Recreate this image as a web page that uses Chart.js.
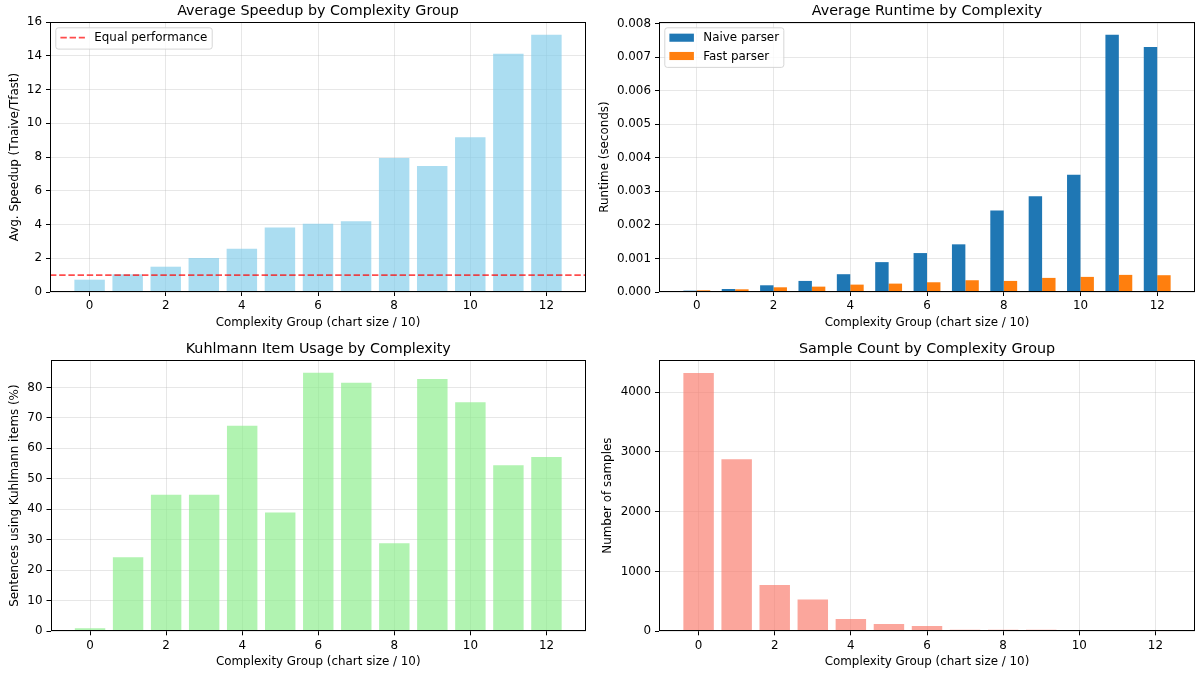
<!DOCTYPE html>
<html>
<head>
<meta charset="utf-8">
<script src="https://cdn.jsdelivr.net/npm/chart.js@4.4.0/dist/chart.umd.min.js"></script>
<style>
  body { margin: 0; background: #fff; width: 1198px; height: 675px; overflow: hidden; position: relative; }
  canvas { position: absolute; }
</style>
</head>
<body>
<canvas id="c1" width="599" height="337" style="left:0;top:0"></canvas>
<canvas id="c2" width="601" height="337" style="left:597px;top:0"></canvas>
<canvas id="c3" width="599" height="338" style="left:0;top:337px"></canvas>
<canvas id="c4" width="601" height="338" style="left:597px;top:337px"></canvas>
<script>
// complexity groups (chart size / 10)
var groups = [0, 1, 2, 3, 4, 5, 6, 7, 8, 9, 10, 11, 12];

// values
var speedup = [0.73, 1.05, 1.50, 2.01, 2.56, 3.82, 4.04, 4.20, 7.94, 7.47, 9.18, 14.13, 15.25];
var naiveRuntime = [0.00004, 0.00009, 0.00020, 0.00033, 0.00053, 0.00089, 0.00116, 0.00142, 0.00243, 0.00285, 0.00349, 0.00766, 0.00730];
var fastRuntime = [0.00005, 0.00008, 0.00014, 0.00016, 0.00022, 0.00025, 0.00029, 0.00035, 0.00033, 0.00042, 0.00045, 0.00051, 0.00050];
var kuhlmannPct = [1.0, 24.3, 44.8, 44.8, 67.4, 39.0, 84.8, 81.5, 28.9, 82.8, 75.1, 54.5, 57.2];
var sampleCount = [4320, 2877, 776, 530, 207, 120, 89, 25, 25, 26, 12, 3, 2];
var equalPerf = 1;

// tick labels
var xTicks = [0, 2, 4, 6, 8, 10, 12];
var speedupTicks = [0, 2, 4, 6, 8, 10, 12, 14, 16];
var runtimeTicks = [0, 0.001, 0.002, 0.003, 0.004, 0.005, 0.006, 0.007, 0.008];
var kuhlmannTicks = [0, 10, 20, 30, 40, 50, 60, 70, 80];
var countTicks = [0, 1000, 2000, 3000, 4000];

Chart.defaults.font.family = "'DejaVu Sans', sans-serif";
Chart.defaults.font.size = 11.9;
Chart.defaults.color = '#000';

function pts(ys) {
  return groups.map(function (g, i) { return { x: g, y: ys[i] }; });
}

function fixTicks(list) {
  return function (s) { s.ticks = list.map(function (v) { return { value: v }; }); };
}

var framePlugin = {
  id: 'frame',
  afterDraw: function (chart) {
    var a = chart.chartArea, ctx = chart.ctx;
    ctx.save();
    ctx.strokeStyle = '#000';
    ctx.lineWidth = 1;
    var l = Math.round(a.left) + 0.5, t = Math.round(a.top) + 0.5;
    var r = Math.round(a.right) - 0.5, b = Math.round(a.bottom) - 0.5;
    ctx.strokeRect(l, t, r - l, b - t);
    ctx.restore();
  }
};

var titlePlugin = {
  id: 'axTitle',
  afterDraw: function (chart, args, opts) {
    var a = chart.chartArea, ctx = chart.ctx;
    ctx.save();
    ctx.font = "14.3px 'DejaVu Sans'";
    ctx.fillStyle = '#000';
    ctx.textAlign = 'center';
    ctx.textBaseline = 'alphabetic';
    ctx.fillText(opts.text, (a.left + a.right) / 2, a.top - 7.3);
    ctx.restore();
  }
};

var legendPlugin = {
  id: 'boxLegend',
  afterDraw: function (chart) {
    var items = chart.data.datasets.filter(function (d) { return d.label; });
    if (!items.length) return;
    var a = chart.chartArea, ctx = chart.ctx;
    ctx.save();
    ctx.font = "11.9px 'DejaVu Sans'";
    var tw = 0;
    items.forEach(function (d) { tw = Math.max(tw, ctx.measureText(d.label).width); });
    var x = a.left + 5.8, y = a.top + 5.8;
    var w = 38.5 + tw + 4.8, h = 21.3 + (items.length - 1) * 18.3, r = 2.5;
    ctx.beginPath();
    ctx.moveTo(x + r, y);
    ctx.arcTo(x + w, y, x + w, y + h, r);
    ctx.arcTo(x + w, y + h, x, y + h, r);
    ctx.arcTo(x, y + h, x, y, r);
    ctx.arcTo(x, y, x + w, y, r);
    ctx.closePath();
    ctx.fillStyle = 'rgba(255,255,255,0.8)';
    ctx.fill();
    ctx.strokeStyle = 'rgba(204,204,204,0.8)';
    ctx.lineWidth = 1;
    ctx.stroke();
    items.forEach(function (d, i) {
      var cy = y + 9.9 + i * 18.3;
      if (d.type === 'line') {
        ctx.strokeStyle = d.borderColor;
        ctx.lineWidth = d.borderWidth;
        ctx.setLineDash(d.borderDash);
        ctx.beginPath();
        ctx.moveTo(x + 4.6, cy);
        ctx.lineTo(x + 29.1, cy);
        ctx.stroke();
        ctx.setLineDash([]);
      } else {
        ctx.fillStyle = d.backgroundColor;
        ctx.fillRect(x + 4.6, cy - 4.05, 24.5, 8.1);
      }
      ctx.fillStyle = '#000';
      ctx.textAlign = 'left';
      ctx.textBaseline = 'middle';
      ctx.fillText(d.label, x + 38.5, cy + 0.5);
    });
    ctx.restore();
  }
};

function makeChart(id, o) {
  return new Chart(document.getElementById(id), {
    type: 'bar',
    data: { datasets: o.datasets },
    plugins: [framePlugin, legendPlugin, titlePlugin],
    options: {
      responsive: false,
      animation: false,
      events: [],
      layout: { padding: { left: 0, right: o.padRight, top: o.padTop, bottom: 0 } },
      plugins: {
        legend: { display: false },
        title: { display: false },
        tooltip: { enabled: false },
        axTitle: { text: o.title }
      },
      scales: {
        x: {
          type: 'linear',
          min: o.xMin,
          max: o.xMax,
          offset: false,
          z: 1,
          afterBuildTicks: fixTicks(xTicks),
          afterFit: function (s) { s.height = o.xHeight; },
          border: { display: false },
          grid: { offset: false, color: 'rgba(176,176,176,0.3)', lineWidth: 1, tickColor: '#000', tickLength: 4 },
          ticks: { padding: 3, maxRotation: 0, autoSkip: false },
          title: { display: true, text: 'Complexity Group (chart size / 10)', padding: { top: 0, bottom: o.xTitlePad } }
        },
        y: {
          min: 0,
          max: o.yMax,
          z: 1,
          afterBuildTicks: fixTicks(o.yTicks),
          afterFit: function (s) { s.width = o.yWidth; },
          border: { display: false },
          grid: { color: 'rgba(176,176,176,0.3)', lineWidth: 1, tickColor: '#000', tickLength: 4 },
          ticks: { padding: 4, autoSkip: false, callback: o.fmt },
          title: { display: true, text: o.yTitle, padding: { top: o.yTitlePad, bottom: 0 } }
        }
      }
    }
  });
}

var xLimA = [-1.04, 13.04];
var xLimB = [-0.985, 12.985];

makeChart('c1', {
  title: 'Average Speedup by Complexity Group',
  yTitle: 'Avg. Speedup (Tnaive/Tfast)',
  xMin: xLimA[0], xMax: xLimA[1],
  yMax: 16.01, yTicks: speedupTicks,
  fmt: function (v) { return String(v); },
  padRight: 13, padTop: 22, yWidth: 50, xHeight: 45, yTitlePad: 8.1, xTitlePad: 7.1,
  datasets: [
    {
      type: 'line',
      label: 'Equal performance',
      data: [{ x: xLimA[0], y: equalPerf }, { x: xLimA[1], y: equalPerf }],
      borderColor: 'rgba(255,0,0,0.7)',
      borderWidth: 1.7,
      borderDash: [6.4, 2.8],
      pointRadius: 0,
      order: 0
    },
    {
      data: pts(speedup),
      backgroundColor: 'rgba(135,206,235,0.7)',
      barPercentage: 0.8,
      categoryPercentage: 1.0,
      order: 1
    }
  ]
});

makeChart('c2', {
  title: 'Average Runtime by Complexity',
  yTitle: 'Runtime (seconds)',
  xMin: xLimB[0], xMax: xLimB[1],
  yMax: 0.008043, yTicks: runtimeTicks,
  fmt: function (v) { return v.toFixed(3); },
  padRight: 3, padTop: 22, yWidth: 62, xHeight: 45, yTitlePad: 0.8, xTitlePad: 7.1,
  datasets: [
    {
      label: 'Naive parser',
      data: pts(naiveRuntime),
      backgroundColor: '#1f77b4',
      barPercentage: 1.0,
      categoryPercentage: 0.7
    },
    {
      label: 'Fast parser',
      data: pts(fastRuntime),
      backgroundColor: '#ff7f0e',
      barPercentage: 1.0,
      categoryPercentage: 0.7
    }
  ]
});

makeChart('c3', {
  title: 'Kuhlmann Item Usage by Complexity',
  yTitle: 'Sentences using Kuhlmann items (%)',
  xMin: xLimA[0], xMax: xLimA[1],
  yMax: 89.0, yTicks: kuhlmannTicks,
  fmt: function (v) { return String(v); },
  padRight: 13, padTop: 23, yWidth: 50.5, xHeight: 43.7, yTitlePad: 8.1, xTitlePad: 5.5,
  datasets: [
    {
      data: pts(kuhlmannPct),
      backgroundColor: 'rgba(144,238,144,0.7)',
      barPercentage: 0.8,
      categoryPercentage: 1.0
    }
  ]
});

makeChart('c4', {
  title: 'Sample Count by Complexity Group',
  yTitle: 'Number of samples',
  xMin: xLimA[0], xMax: xLimA[1],
  yMax: 4536, yTicks: countTicks,
  fmt: function (v) { return String(v); },
  padRight: 3, padTop: 23, yWidth: 62, xHeight: 43.7, yTitlePad: 4.0, xTitlePad: 5.5,
  datasets: [
    {
      data: pts(sampleCount),
      backgroundColor: 'rgba(250,128,114,0.7)',
      barPercentage: 0.8,
      categoryPercentage: 1.0
    }
  ]
});
</script>
</body>
</html>
